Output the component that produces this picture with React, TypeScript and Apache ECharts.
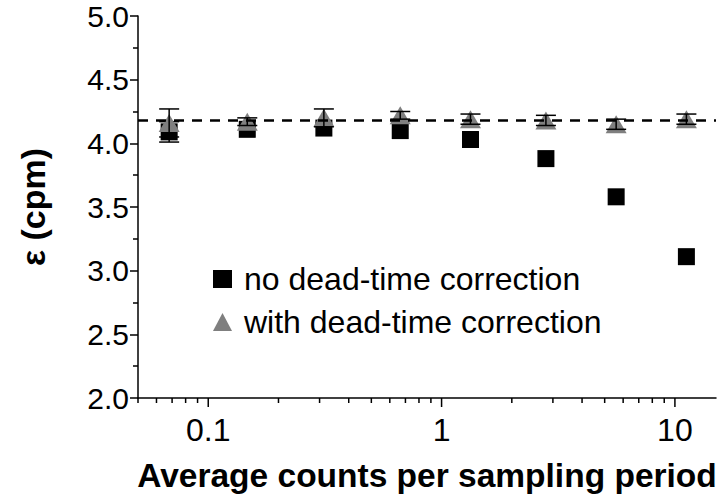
import React, { useEffect, useRef } from "react";
import * as echarts from "echarts";

// ---- data ----
const xValues = [0.068, 0.147, 0.313, 0.665, 1.33, 2.8, 5.6, 11.2];
const noCorrection = [4.09, 4.11, 4.12, 4.1, 4.03, 3.88, 3.58, 3.11];
const noCorrectionErr = [0.08, 0, 0, 0, 0, 0, 0, 0];
const withCorrection = [4.16, 4.17, 4.2, 4.22, 4.19, 4.18, 4.15, 4.19];
const withCorrectionErr = [0.11, 0.03, 0.07, 0.03, 0.04, 0.04, 0.04, 0.04];
const referenceLevel = 4.18;
const xMajorTicks = [0.1, 1, 10];
const xMinorTicks = [
  0.05, 0.06, 0.07, 0.08, 0.09,
  0.2, 0.3, 0.4, 0.5, 0.6, 0.7, 0.8, 0.9,
  2, 3, 4, 5, 6, 7, 8, 9,
];
const seriesNames = ["no dead-time correction", "with dead-time correction"];

const FONT = "'Liberation Sans', Arial, sans-serif";

export default function App() {
  const ref = useRef<HTMLDivElement>(null);

  useEffect(() => {
    if (!ref.current) return;
    const chart = echarts.init(ref.current, undefined, { renderer: "svg" });

    const errData = (vals: number[], errs: number[]) =>
      xValues.map((x, i) => [x, vals[i] - errs[i], vals[i] + errs[i]]);

    const errorRender = (params: any, api: any) => {
      const x = api.value(0);
      if (api.value(1) === api.value(2)) return null;
      const lo = api.coord([x, api.value(1)]);
      const hi = api.coord([x, api.value(2)]);
      const cap = 10;
      const style = { stroke: "#000", lineWidth: 1.5 };
      return {
        type: "group",
        children: [
          { type: "line", shape: { x1: lo[0], y1: lo[1], x2: hi[0], y2: hi[1] }, style },
          { type: "line", shape: { x1: lo[0] - cap, y1: lo[1], x2: lo[0] + cap, y2: lo[1] }, style },
          { type: "line", shape: { x1: hi[0] - cap, y1: hi[1], x2: hi[0] + cap, y2: hi[1] }, style },
        ],
      };
    };

    const tickRender = (len: number) => (params: any, api: any) => {
      const p = api.coord([api.value(0), 2]);
      return {
        type: "line",
        shape: { x1: p[0], y1: p[1], x2: p[0], y2: p[1] + len },
        style: { stroke: "#000", lineWidth: 1.5 },
      };
    };

    chart.setOption({
      animation: false,
      backgroundColor: "#fff",
      textStyle: { fontFamily: FONT },
      grid: { left: 138, right: 4, top: 16, bottom: 102 },
      legend: {
        orient: "vertical",
        left: 208,
        top: 258,
        itemGap: 11,
        itemWidth: 19,
        itemHeight: 18,
        data: [
          { name: seriesNames[0], icon: "rect" },
          { name: seriesNames[1], icon: "triangle" },
        ],
        textStyle: { fontSize: 32, color: "#000", fontFamily: FONT, padding: [0, 0, 0, 7] },
      },
      xAxis: {
        type: "log",
        logBase: 10,
        min: 0.05,
        max: 15,
        name: "Average counts per sampling period",
        nameLocation: "middle",
        nameGap: 60,
        nameTextStyle: { fontSize: 33.5, fontWeight: "bold", color: "#000", fontFamily: FONT },
        axisLine: { lineStyle: { color: "#000", width: 1.5 } },
        axisTick: { show: false },
        splitLine: { show: false },
        axisLabel: {
          showMinLabel: false,
          showMaxLabel: false,
          margin: 16,
          fontSize: 32,
          color: "#000",
          fontFamily: FONT,
          formatter: (v: number) => String(parseFloat(Number(v).toPrecision(6))),
        },
      },
      yAxis: {
        type: "value",
        min: 2,
        max: 5,
        interval: 0.5,
        name: "ε (cpm)",
        nameLocation: "middle",
        nameRotate: 90,
        nameGap: 88,
        nameTextStyle: { fontSize: 34, fontWeight: "bold", color: "#000", fontFamily: FONT },
        axisLine: { show: true, lineStyle: { color: "#000", width: 1.5 } },
        axisTick: { show: true, length: 8, lineStyle: { color: "#000", width: 1.5 } },
        minorTick: { show: true, splitNumber: 2, length: 5, lineStyle: { color: "#000", width: 1.5 } },
        splitLine: { show: false },
        axisLabel: {
          margin: 9,
          fontSize: 30,
          color: "#000",
          fontFamily: FONT,
          formatter: (v: number) => v.toFixed(1),
        },
      },
      series: [
        {
          type: "custom",
          renderItem: errorRender,
          data: errData(noCorrection, noCorrectionErr),
          z: 1,
          silent: true,
        },
        {
          name: seriesNames[0],
          type: "scatter",
          symbol: "rect",
          symbolSize: 17,
          itemStyle: { color: "#000", opacity: 1 },
          data: xValues.map((x, i) => [x, noCorrection[i]]),
          z: 2,
          markLine: {
            silent: true,
            symbol: "none",
            label: { show: false },
            lineStyle: { color: "#000", type: [10, 8], width: 2.5 },
            data: [{ yAxis: referenceLevel }],
          },
        },
        {
          name: seriesNames[1],
          type: "scatter",
          symbol: "triangle",
          symbolSize: [21, 18],
          itemStyle: { color: "#7f7f7f", opacity: 1 },
          data: xValues.map((x, i) => [x, withCorrection[i]]),
          z: 3,
        },
        {
          type: "custom",
          renderItem: errorRender,
          data: errData(withCorrection, withCorrectionErr),
          z: 4,
          silent: true,
        },
        {
          type: "custom",
          renderItem: tickRender(9),
          data: xMajorTicks.map((v) => [v]),
          clip: false,
          silent: true,
        },
        {
          type: "custom",
          renderItem: tickRender(5),
          data: xMinorTicks.map((v) => [v]),
          clip: false,
          silent: true,
        },
      ],
    });

    return () => chart.dispose();
  }, []);

  return (
    <div
      ref={ref}
      style={{ position: "fixed", left: 0, top: 0, width: 720, height: 500, background: "#fff" }}
    />
  );
}
